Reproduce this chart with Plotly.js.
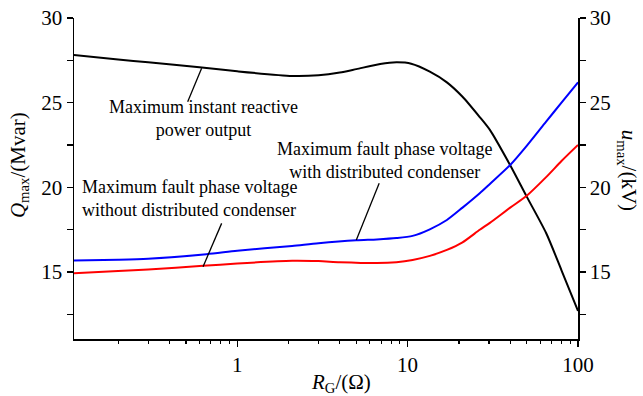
<!DOCTYPE html>
<html>
<head>
<meta charset="utf-8">
<script src="https://cdn.plot.ly/plotly-3.0.1.min.js"></script>
<style>html,body{margin:0;padding:0;background:#fff;}#chart{width:643px;height:396px;}</style>
</head>
<body>
<div id="chart"></div>
<script>
// R_G values (Ohm) and curves
var xBlack = [0.11, 0.2, 0.3, 0.6, 1, 2.1, 3, 4, 5, 6.9, 8.6, 10.5, 13.5, 17, 21, 26.5, 30.4, 40, 50, 65, 80, 100];
var qMax   = [27.82, 27.55, 27.38, 27.09, 26.85, 26.58, 26.62, 26.78, 26.98, 27.28, 27.38, 27.3, 26.83, 26.2, 25.35, 24.15, 23.39, 21.3, 19.45, 17.3, 15.1, 12.7];

var xBlue  = [0.11, 0.2, 0.3, 0.66, 1, 2.1, 3, 5, 6.6, 8.6, 10.7, 13.5, 17, 21, 26.5, 30.4, 40, 50, 65, 80, 100];
var uWith  = [15.67, 15.72, 15.78, 16.05, 16.25, 16.54, 16.7, 16.87, 16.92, 17.0, 17.13, 17.52, 18.07, 18.8, 19.65, 20.2, 21.32, 22.45, 23.88, 25.0, 26.2];

var xRed   = [0.11, 0.2, 0.3, 0.63, 1, 2.1, 3, 4, 6.6, 8.6, 10.7, 13.5, 17, 21, 26.5, 30.4, 40, 50, 65, 80, 100];
var uWithout = [14.93, 15.05, 15.15, 15.36, 15.5, 15.66, 15.64, 15.58, 15.53, 15.58, 15.71, 15.95, 16.3, 16.75, 17.49, 17.9, 18.8, 19.5, 20.6, 21.55, 22.5];

var xTickVals = [1, 10, 100];
var xTickText = ['1', '10', '100'];
var xMinorVals = [0.2,0.3,0.4,0.5,0.6,0.7,0.8,0.9,2,3,4,5,6,7,8,9,20,30,40,50,60,70,80,90];
var yTickVals = [15, 20, 25, 30];
var yTickText = ['15', '20', '25', '30'];

var FONT = "'Liberation Serif', 'DejaVu Serif', serif";

var traces = [
  {x: xBlack, y: qMax, yaxis: 'y', mode: 'lines', line: {color: '#000000', width: 2, shape: 'spline', smoothing: 0.7}, name: 'Maximum instant reactive power output'},
  {x: xBlue, y: uWith, yaxis: 'y2', mode: 'lines', line: {color: '#0000ff', width: 2, shape: 'spline', smoothing: 0.7}, name: 'with distributed condenser'},
  {x: xRed, y: uWithout, yaxis: 'y2', mode: 'lines', line: {color: '#ff0000', width: 2, shape: 'spline', smoothing: 0.7}, name: 'without distributed condenser'}
];

function leader(xHead, yHead, xTail, yTail) {
  return {type: 'line', xref: 'x', yref: 'y', x0: xHead, y0: yHead, x1: xTail, y1: yTail,
    line: {color: '#000', width: 1.3}};
}

var axisCommon = {
  showline: true, linecolor: '#000', linewidth: 1.5,
  showgrid: false, zeroline: false,
  ticks: 'outside', ticklen: 6, tickwidth: 1.3, tickcolor: '#000',
  tickfont: {family: FONT, size: 21, color: '#000'}
};

var layout = {
  width: 643, height: 396,
  margin: {l: 74, r: 64.5, t: 18, b: 57},
  paper_bgcolor: '#fff', plot_bgcolor: '#fff',
  showlegend: false,
  font: {family: FONT, size: 21, color: '#000'},
  xaxis: Object.assign({}, axisCommon, {
    type: 'log', range: [-0.958, 2],
    tickmode: 'array', tickvals: xTickVals, ticktext: xTickText,
    minor: {tickmode: 'array', tickvals: xMinorVals, ticks: 'outside', ticklen: 3, tickwidth: 1.2, tickcolor: '#000', showgrid: false}
  }),
  yaxis: Object.assign({}, axisCommon, {
    range: [11.04, 30],
    tickmode: 'array', tickvals: yTickVals, ticktext: yTickText,
    minor: {tickmode: 'linear', tick0: 0, dtick: 2.5, ticks: 'outside', ticklen: 6, tickwidth: 1.2, tickcolor: '#000', showgrid: false}
  }),
  yaxis2: Object.assign({}, axisCommon, {
    overlaying: 'y', side: 'right', anchor: 'x',
    range: [11.04, 30],
    tickmode: 'array', tickvals: yTickVals, ticktext: yTickText,
    minor: {tickmode: 'linear', tick0: 0, dtick: 2.5, ticks: 'outside', ticklen: 6, tickwidth: 1.2, tickcolor: '#000', showgrid: false}
  }),
  shapes: [
    leader(0.618, 27.03, 0.512, 25.06),
    leader(0.63, 15.31, 0.81, 17.87),
    leader(5.0, 16.89, 6.81, 20.24)
  ],
  annotations: [
    {xref: 'paper', yref: 'paper', x: -0.109, y: 0.542, xanchor: 'center', yanchor: 'middle', textangle: -90, showarrow: false,
     text: '<i>Q</i><sub>max</sub>/(Mvar)', font: {family: FONT, size: 21, color: '#000'}},
    {xref: 'paper', yref: 'paper', x: 1.098, y: 0.526, xanchor: 'center', yanchor: 'middle', textangle: 90, showarrow: false,
     text: '<i>u</i><sub>max</sub>/(kV)', font: {family: FONT, size: 21, color: '#000'}},
    {xref: 'paper', yref: 'paper', x: 0.529, y: -0.137, xanchor: 'center', yanchor: 'middle', showarrow: false,
     text: '<i>R</i><sub>G</sub>/(Ω)', font: {family: FONT, size: 21, color: '#000'}},
    {xref: 'paper', yref: 'paper', x: 0.257, y: 0.687, xanchor: 'center', yanchor: 'middle', align: 'center', showarrow: false,
     text: 'Maximum instant reactive<br>power output', font: {family: FONT, size: 18, color: '#000'}},
    {xref: 'paper', yref: 'paper', x: 0.012, y: 0.439, xanchor: 'left', yanchor: 'middle', align: 'left', showarrow: false,
     text: 'Maximum fault phase voltage<br>without distributed condenser', font: {family: FONT, size: 18, color: '#000'}},
    {xref: 'paper', yref: 'paper', x: 0.616, y: 0.556, xanchor: 'center', yanchor: 'middle', align: 'center', showarrow: false,
     text: 'Maximum fault phase voltage<br>with distributed condenser', font: {family: FONT, size: 18, color: '#000'}}
  ]
};

Plotly.newPlot('chart', traces, layout, {displayModeBar: false, staticPlot: true});
</script>
</body>
</html>
